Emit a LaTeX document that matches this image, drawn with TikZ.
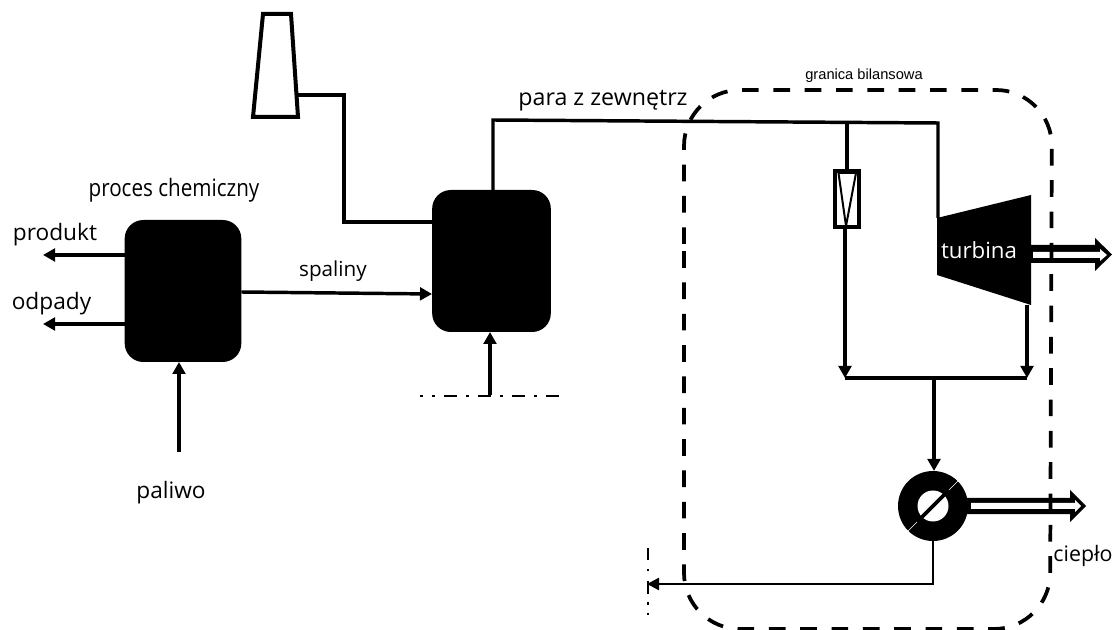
\documentclass[tikz,border=0pt]{standalone}
\usepackage{fontspec}
\setmainfont{Open Sans}
\newfontfamily\condfont[FakeStretch=0.86]{Open Sans}
\newfontfamily\smallfont{Liberation Sans}
\usetikzlibrary{arrows.meta}
\tikzset{
  blk/.style={draw=none,fill=black,rounded corners=14pt,inner sep=0pt,outer sep=0pt},
  pipe/.style={draw=black,line width=2.6pt,line join=miter},
  thin pipe/.style={draw=black,line width=1.9pt},
  arr/.style={pipe,-{Triangle[length=9pt,width=9.5pt]}},
  thin arr/.style={thin pipe,-{Triangle[length=9pt,width=9pt]}},
  lbl/.style={font=\condfont\fontsize{18}{20}\selectfont,inner sep=0pt,text=black},
  boundary/.style={draw=black,line width=2.8pt,dash pattern=on 12.5pt off 11pt,rounded corners=42pt},
  dashdotline/.style={draw=black,line width=2.2pt},
}
\begin{document}
\begin{tikzpicture}[x=0.75pt,y=-0.75pt]
\useasboundingbox (0,0) rectangle (1117,630);
% process blocks
\node[blk,minimum width=87.5pt,minimum height=106.5pt] (chem) at (183,291) {};
\node[blk,minimum width=89pt,minimum height=106.5pt] (boil) at (491.5,261) {};
% stack
\draw[pipe,fill=white,line width=3pt] (263,14) -- (291,14) -- (298,117) -- (253,117) -- cycle;
\coordinate (stackout) at (297,95);
\coordinate (stackbend) at (344,95);
\coordinate (boilin) at (432,222);
\draw[pipe] (stackout) -- (stackbend) -- (boilin -| stackbend) -- (boilin);
% turbine
\path[fill=black] (937,218) -- (1031,195) -- (1031,305) -- (937,275) -- cycle;
\coordinate (turbin) at (938,218);
\coordinate (turbout) at (1027,305);
\node[font=\fontsize{16.7}{18}\selectfont,text=white,inner sep=0pt] (turblbl) at (979,250) {turbina};
% ejector
\node[draw=black,line width=2.6pt,fill=white,minimum width=18pt,minimum height=42pt,inner sep=0pt,outer sep=0pt] (ej) at (847,199) {};
\draw[line width=1.5pt] (838.5,173) -- (856,173) -- (846,226) -- cycle;
% steam main
\coordinate (steamtee) at (847,123);
\coordinate (steamcorner) at (938,123);
\coordinate (steamleft) at (493,120);
\draw[pipe] (boil.north -| steamleft) -- (steamleft) -- (steamcorner) -- (turbin);
\draw[pipe] (steamtee) -- (ej.north);
% mixing line
\coordinate (mixL) at (845,378);
\coordinate (mixR) at (1027,378);
\coordinate (mixC) at (934,378);
\draw[arr] (ej.south -| mixL) -- (mixL);
\draw[arr] (turbout) -- (mixR);
\draw[pipe] (mixL) -- (mixR);
% exchanger
\node[circle,fill=black,minimum size=52.5pt,inner sep=0pt,outer sep=0pt] (hx) at (933,506) {};
\path[fill=white] (hx) circle[radius=15.5];
\draw[line width=2.8pt] (917,522) -- (949,490);
\draw[white,line width=.5pt] (907,532) -- (917,522) (949,490) -- (958,481);
\draw[arr] (mixC) -- (hx.north -| mixC);
\coordinate (ret) at (647,584);
\coordinate (retb) at (933,584);
\draw[thin arr] (hx.south) -- (retb) -- (ret);
% hollow arrows
\path[fill=black] (1031,245) -- (1095,245) -- (1095,238) -- (1112,254.5) -- (1095,271) -- (1095,263) -- (1031,263) -- cycle;
\path[fill=white] (1033,252) -- (1100,252) -- (1100,249) -- (1107,255) -- (1100,261) -- (1100,258) -- (1033,258) -- cycle;
\path[fill=black] (966,498) -- (1070,498) -- (1070,490) -- (1086,506) -- (1070,522) -- (1070,514) -- (966,514) -- cycle;
\path[fill=white] (971,503) -- (1075,503) -- (1075,500) -- (1081,506) -- (1075,512) -- (1075,509) -- (971,509) -- cycle;
% other arrows
\coordinate (prodend) at (43,255);
\coordinate (odpend) at (43,324);
\coordinate (palstart) at (179,452);
\coordinate (spin) at (432,294);
\coordinate (boilbot) at (490,395);
\draw[arr] (chem.west |- prodend) -- (prodend);
\draw[arr] (chem.west |- odpend) -- (odpend);
\draw[arr] (palstart) -- (chem.south -| palstart);
\draw[arr] (chem.east |- 0,292) -- (spin);
\draw[arr] (boilbot) -- (boil.south -| boilbot);
% dash-dot lines
\draw[dashdotline,dash pattern=on 2.5pt off 6.5pt on 2.5pt off 6.5pt on 10pt off 6.5pt on 2.5pt off 6.5pt on 10pt off 6.5pt on 2.5pt off 6.5pt on 10pt off 6.5pt on 2.5pt off 6.5pt on 10pt off 100pt] (420,396) -- (560,396);
\draw[dashdotline,dash pattern=on 9pt off 6.5pt on 2pt off 7pt on 10pt off 6pt on 2pt off 6pt on 2pt off 50pt] (648,548) -- (648,620);
% boundary
\draw[boundary] (684,300) -- (684,90) -- (1052,90) -- (1050,629) -- (684,629) -- cycle;
% labels
\node[lbl] (t1) at (174,190) {proces chemiczny};
\node[lbl,font=\fontsize{17}{19}\selectfont] (t2) at (55,235) {produkt};
\node[lbl,font=\fontsize{17}{19}\selectfont] (t3) at (51.5,304) {odpady};
\node[lbl,font=\fontsize{15.5}{17}\selectfont] (t4) at (333,271) {spaliny};
\node[lbl,font=\fontsize{17}{19}\selectfont] (t5) at (171,493) {paliwo};
\node[lbl,font=\fontsize{17.4}{19}\selectfont] (t6) at (603,101) {para z zewnętrz};
\node[inner sep=0pt,font=\smallfont\fontsize{11}{13}\selectfont] (t7) at (864,76) {granica bilansowa};
\node[lbl,font=\fontsize{16}{18}\selectfont] (t8) at (1083,556) {ciepło};
\end{tikzpicture}
\end{document}
